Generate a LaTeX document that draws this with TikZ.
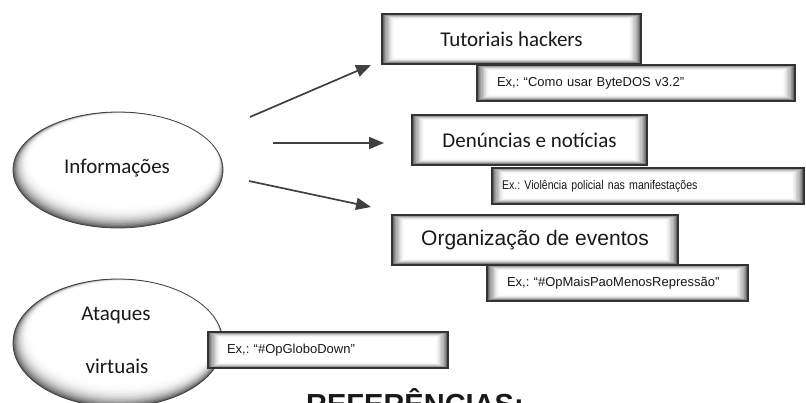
\documentclass[tikz,border=0pt]{standalone}
\usepackage{fontspec}
\newfontfamily\calfont{Carlito}
\newfontfamily\arifont{Liberation Sans}
\newfontfamily\arinarrow[FakeStretch=0.84]{Liberation Sans}
\usetikzlibrary{arrows.meta,shapes.geometric}
\frenchspacing
\tikzset{
  bevel/.style={draw=black!80, line width=1.2pt, inner sep=0pt, outer sep=0pt,
    path picture={
      \foreach \i in {0,...,12}{
        \pgfmathsetmacro\g{68*(1-\i/12)^2}
        \fill[black!\g] ([xshift=\i*1.1pt, yshift=\i*0.5pt]path picture bounding box.south west)
          rectangle ([xshift=-\i*1.1pt, yshift=-\i*0.5pt]path picture bounding box.north east);
      }}},
  mainbox/.style={bevel, minimum height=50pt, font=\calfont\fontsize{21}{24}\selectfont, text=black!90},
  subbox/.style={bevel, minimum height=36pt, font=\arifont\fontsize{13}{15}\selectfont, text=black!90, align=left},
  oval/.style 2 args={ellipse, draw=black!75, line width=0.8pt, inner sep=0pt,
    minimum width=2*#1, minimum height=2*#2,
    path picture={
      \foreach \i in {0,...,16}{
        \pgfmathsetmacro\g{62*(1-\i/16)^3}
        \fill[black!\g] ([xshift=\i*0.4pt, yshift=\i*0.7pt]path picture bounding box.center)
          ellipse [x radius=#1-\i*0.8pt, y radius=#2-\i*0.85pt];
      }}},
  lbl/.style={font=\calfont\fontsize{21}{24}\selectfont, text=black!90},
  link/.style={draw=black!75, line width=1.7pt, -{Triangle[length=15pt,width=12pt]}},
}
\begin{document}
\begin{tikzpicture}[x=1pt,y=-1pt]
\useasboundingbox (0,0) rectangle (806,403);
\clip (0,0) rectangle (806,403);
\fill[white] (0,0) rectangle (806,403);

% ellipses
\node[oval={105pt}{58pt}] (info) at (118,170) {};
\node[lbl] (infot) at (117,168) {Informações};

\node[oval={105pt}{64pt}] (atq) at (118,343) {};
\node[lbl] (atq1) at (116,315) {Ataques};
\node[lbl] (atq2) at (117,366) {virtuais};

% main boxes
\node[mainbox, minimum width=259pt] (b1) at (511.5,39) {Tutoriais hackers};
\node[mainbox, minimum width=235pt] (b2) at (529.5,140) {Denúncias e notícias};
\node[mainbox, minimum width=286pt, font=\arifont\fontsize{21}{24}\selectfont] (b3) at (535,240) {Organização de eventos};

% sub boxes
\node[subbox, minimum width=318pt, text width=278pt, inner xsep=20pt, anchor=north west] (s1) at (477,65) {Ex,: “Como usar ByteDOS v3.2”};
\node[subbox, minimum width=312pt, text width=292pt, inner xsep=10pt, anchor=north west, font=\arinarrow\fontsize{12.6}{15}\selectfont] (s2) at (492,168) {Ex.: Violência policial nas manifestações};
\node[subbox, minimum width=261pt, text width=221pt, inner xsep=20pt, anchor=north west] (s3) at (487,265) {Ex,: “\#OpMaisPaoMenosRepressão”};
\node[subbox, minimum width=240pt, text width=202pt, inner xsep=19pt, anchor=north west] (s4) at (208,332) {Ex,: “\#OpGloboDown”};

% arrows
\coordinate (a1s) at (250,117);
\coordinate (a1e) at (371,65);
\coordinate (a2s) at (273,143);
\coordinate (a2e) at (384,143);
\coordinate (a3s) at (249,181);
\coordinate (a3e) at (371,207);
\draw[link] (a1s) -- (a1e);
\draw[link] (a2s) -- (a2e);
\draw[link] (a3s) -- (a3e);

% cut-off heading
\node[font=\arifont\bfseries\fontsize{29}{32}\selectfont, anchor=base west, text=black!90, inner sep=0pt] (ref) at (306,414) {REFERÊNCIAS:};
\end{tikzpicture}
\end{document}
